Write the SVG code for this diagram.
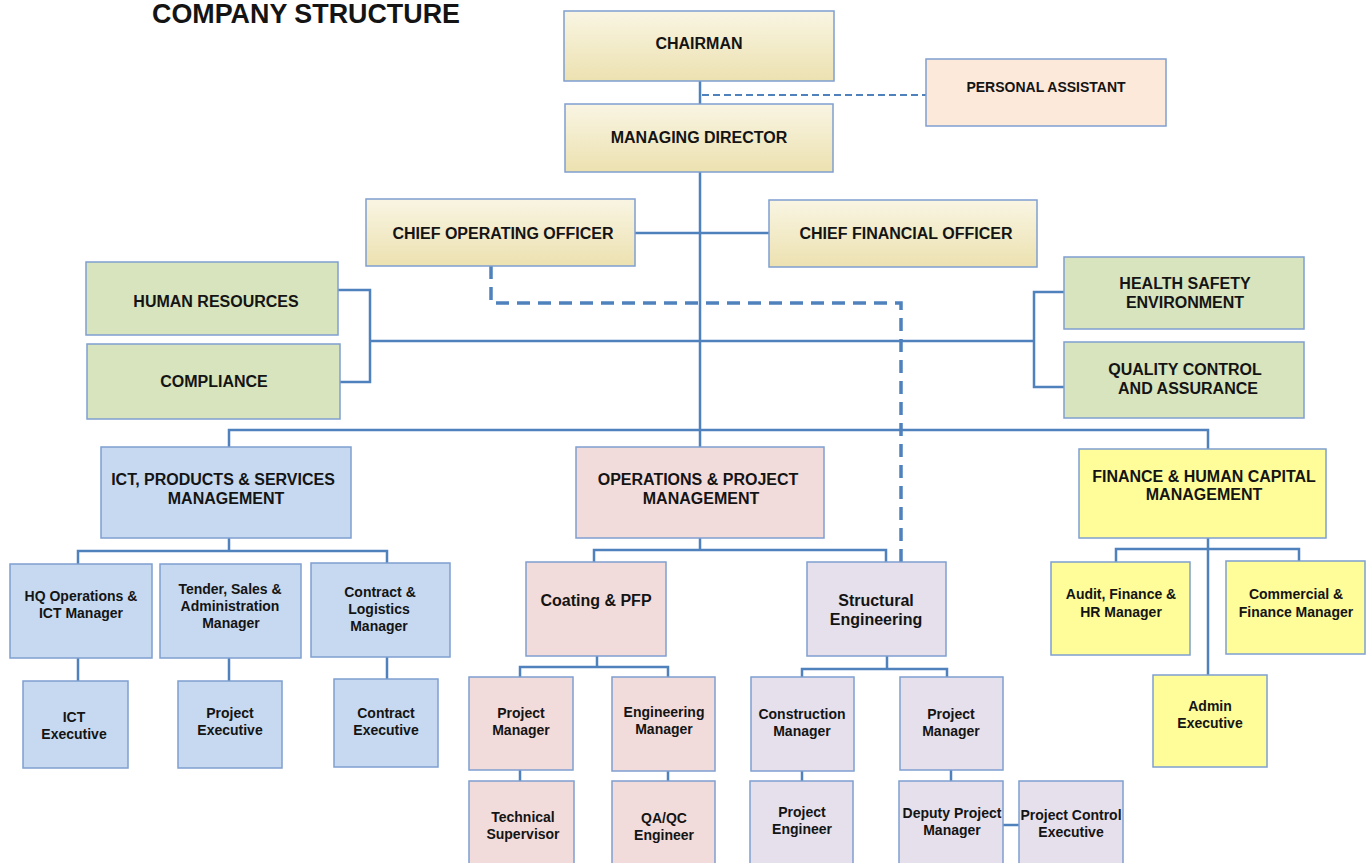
<svg xmlns="http://www.w3.org/2000/svg" width="1368" height="863" viewBox="0 0 1368 863">
<defs>
<linearGradient id="gold" x1="0" y1="0" x2="0" y2="1">
<stop offset="0" stop-color="#f9f5e3"/>
<stop offset="1" stop-color="#ece1b0"/>
</linearGradient>
</defs>
<style>
.box{stroke:#7f9fd0;stroke-width:1.5}
.gold{fill:url(#gold)}
.pa{fill:#fde9da}
.green{fill:#d7e4bd}
.blue{fill:#c6d9f1}
.pink{fill:#f2dcdb}
.lav{fill:#e5e0ec}
.yel{fill:#fefd9a}
.t{font-family:"Liberation Sans",Arial,sans-serif;font-weight:bold;fill:#141414;text-anchor:middle}
.big{font-size:16px}
.sm{font-size:14px}
.c{fill:none;stroke:#4f81bd;stroke-width:2.5}
.d1{fill:none;stroke:#4f81bd;stroke-width:2;stroke-dasharray:7 4}
.d2{fill:none;stroke:#4f81bd;stroke-width:3.5;stroke-dasharray:13 8}
</style>
<rect width="1368" height="863" fill="#ffffff"/>
<text x="306" y="23" class="t" style="font-size:27px" textLength="308" lengthAdjust="spacingAndGlyphs">COMPANY STRUCTURE</text>

<g id="connectors">
<path class="c" d="M700 81V104"/>
<path class="d1" d="M702 95H926"/>
<path class="c" d="M700 172V447"/>
<path class="c" d="M635 233H769"/>
<path class="d2" d="M491 266V303H901V562"/>
<path class="c" d="M338 290H370V382H340"/>
<path class="c" d="M370 341H1034"/>
<path class="c" d="M1064 292H1034V387H1064"/>
<path class="c" d="M229 447V430H1208V449"/>
<path class="c" d="M229 538V551M78 564V551H387V563"/>
<path class="c" d="M78 658V681M229 658V681M387 657V679"/>
<path class="c" d="M700 538V550M594 562V550H886V562"/>
<path class="c" d="M597 656V667M520 677V667H668V677"/>
<path class="c" d="M520 770V781M668 771V781"/>
<path class="c" d="M887 656V669M802 677V669H947V677"/>
<path class="c" d="M802 771V781M951 770V781"/>
<path class="c" d="M1003 825H1019"/>
<path class="c" d="M1208 538V675M1116 562V549H1299V561"/>
</g>

<g id="chairman"><rect class="box gold" x="564" y="11" width="270" height="70"/><text class="t big" x="699" y="49">CHAIRMAN</text></g>
<g id="personal-assistant"><rect class="box pa" x="926" y="59" width="240" height="67"/><text class="t sm" x="1046" y="92">PERSONAL ASSISTANT</text></g>
<g id="managing-director"><rect class="box gold" x="565" y="104" width="268" height="68"/><text class="t big" x="699" y="143">MANAGING DIRECTOR</text></g>
<g id="coo"><rect class="box gold" x="366" y="199" width="269" height="67"/><text class="t big" x="503" y="239">CHIEF OPERATING OFFICER</text></g>
<g id="cfo"><rect class="box gold" x="769" y="200" width="268" height="67"/><text class="t big" x="906" y="239">CHIEF FINANCIAL OFFICER</text></g>
<g id="hr"><rect class="box green" x="86" y="262" width="252" height="73"/><text class="t big" x="216" y="307">HUMAN RESOURCES</text></g>
<g id="compliance"><rect class="box green" x="87" y="344" width="253" height="75"/><text class="t big" x="214" y="387">COMPLIANCE</text></g>
<g id="hse"><rect class="box green" x="1064" y="257" width="240" height="72"/><text class="t big" x="1185" y="289">HEALTH SAFETY</text><text class="t big" x="1185" y="308">ENVIRONMENT</text></g>
<g id="qc"><rect class="box green" x="1064" y="342" width="240" height="76"/><text class="t big" x="1185" y="375">QUALITY CONTROL</text><text class="t big" x="1188" y="394">AND ASSURANCE</text></g>

<g id="ict"><rect class="box blue" x="101" y="447" width="250" height="91"/><text class="t big" x="223" y="485">ICT, PRODUCTS &amp; SERVICES</text><text class="t big" x="226" y="504">MANAGEMENT</text></g>
<g id="operations"><rect class="box pink" x="576" y="447" width="248" height="91"/><text class="t big" x="698" y="485">OPERATIONS &amp; PROJECT</text><text class="t big" x="701" y="504">MANAGEMENT</text></g>
<g id="finance"><rect class="box yel" x="1079" y="449" width="247" height="89"/><text class="t big" x="1204" y="482">FINANCE &amp; HUMAN CAPITAL</text><text class="t big" x="1204" y="500">MANAGEMENT</text></g>

<g id="hq-ops"><rect class="box blue" x="10" y="564" width="142" height="94"/><text class="t sm" x="81" y="601">HQ Operations &amp;</text><text class="t sm" x="81" y="618">ICT Manager</text></g>
<g id="tender"><rect class="box blue" x="160" y="564" width="141" height="94"/><text class="t sm" x="230" y="594">Tender, Sales &amp;</text><text class="t sm" x="230" y="611">Administration</text><text class="t sm" x="231" y="628">Manager</text></g>
<g id="contract-logistics"><rect class="box blue" x="311" y="563" width="139" height="94"/><text class="t sm" x="380" y="597">Contract &amp;</text><text class="t sm" x="379" y="614">Logistics</text><text class="t sm" x="379" y="631">Manager</text></g>
<g id="ict-exec"><rect class="box blue" x="23" y="681" width="105" height="87"/><text class="t sm" x="74" y="722">ICT</text><text class="t sm" x="74" y="739">Executive</text></g>
<g id="project-exec"><rect class="box blue" x="178" y="681" width="104" height="87"/><text class="t sm" x="230" y="718">Project</text><text class="t sm" x="230" y="735">Executive</text></g>
<g id="contract-exec"><rect class="box blue" x="334" y="679" width="104" height="88"/><text class="t sm" x="386" y="718">Contract</text><text class="t sm" x="386" y="735">Executive</text></g>

<g id="coating"><rect class="box pink" x="526" y="562" width="140" height="94"/><text class="t big" x="596" y="606">Coating &amp; PFP</text></g>
<g id="structural"><rect class="box lav" x="807" y="562" width="139" height="94"/><text class="t big" x="876" y="606">Structural</text><text class="t big" x="876" y="625">Engineering</text></g>
<g id="coating-pm"><rect class="box pink" x="469" y="677" width="104" height="93"/><text class="t sm" x="521" y="718">Project</text><text class="t sm" x="521" y="735">Manager</text></g>
<g id="eng-manager"><rect class="box pink" x="612" y="677" width="103" height="94"/><text class="t sm" x="664" y="717">Engineering</text><text class="t sm" x="664" y="734">Manager</text></g>
<g id="tech-supervisor"><rect class="box pink" x="469" y="781" width="105" height="90"/><text class="t sm" x="523" y="822">Technical</text><text class="t sm" x="523" y="839">Supervisor</text></g>
<g id="qaqc"><rect class="box pink" x="612" y="781" width="103" height="90"/><text class="t sm" x="664" y="823">QA/QC</text><text class="t sm" x="664" y="840">Engineer</text></g>
<g id="construction-manager"><rect class="box lav" x="751" y="677" width="103" height="94"/><text class="t sm" x="802" y="719">Construction</text><text class="t sm" x="802" y="736">Manager</text></g>
<g id="structural-pm"><rect class="box lav" x="900" y="677" width="103" height="93"/><text class="t sm" x="951" y="719">Project</text><text class="t sm" x="951" y="736">Manager</text></g>
<g id="project-engineer"><rect class="box lav" x="750" y="781" width="103" height="90"/><text class="t sm" x="802" y="817">Project</text><text class="t sm" x="802" y="834">Engineer</text></g>
<g id="deputy-pm"><rect class="box lav" x="899" y="781" width="104" height="90"/><text class="t sm" x="952" y="818">Deputy Project</text><text class="t sm" x="952" y="835">Manager</text></g>
<g id="project-control"><rect class="box lav" x="1019" y="781" width="104" height="90"/><text class="t sm" x="1071" y="820">Project Control</text><text class="t sm" x="1071" y="837">Executive</text></g>

<g id="audit"><rect class="box yel" x="1051" y="562" width="139" height="93"/><text class="t sm" x="1121" y="599">Audit, Finance &amp;</text><text class="t sm" x="1121" y="617">HR Manager</text></g>
<g id="commercial"><rect class="box yel" x="1226" y="561" width="139" height="93"/><text class="t sm" x="1296" y="599">Commercial &amp;</text><text class="t sm" x="1296" y="617">Finance Manager</text></g>
<g id="admin"><rect class="box yel" x="1153" y="675" width="114" height="92"/><text class="t sm" x="1210" y="711">Admin</text><text class="t sm" x="1210" y="728">Executive</text></g>
</svg>
